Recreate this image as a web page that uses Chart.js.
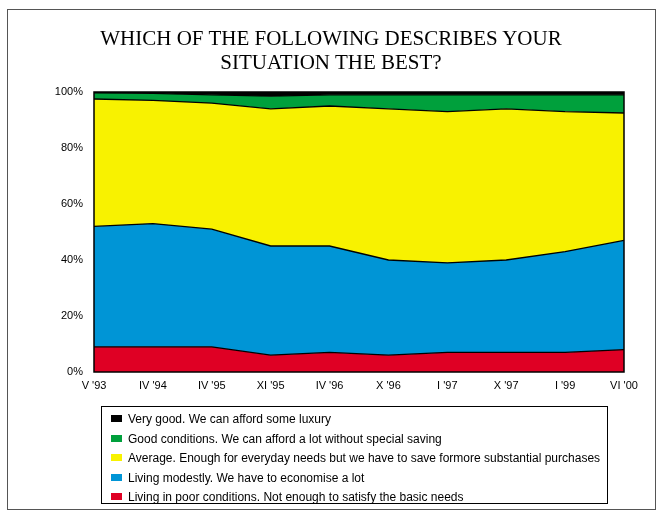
<!DOCTYPE html>
<html>
<head>
<meta charset="utf-8">
<script src="https://cdn.jsdelivr.net/npm/chart.js@4"></script>
<style>
    body { margin: 0; background: #fff; }
    #wrap { position: relative; width: 662px; height: 519px; }
    #frame {
        position: absolute; left: 7px; top: 9px; width: 649px; height: 501px;
        border: 1px solid #555; box-sizing: border-box;
    }
    #chart { position: absolute; left: 0; top: 0; }
    #title {
        position: absolute; left: 0; width: 662px; top: 26px; text-align: center;
        font: 21px/24px "Liberation Serif", "Times New Roman", serif; color: #000;
    }
    #legend {
        position: absolute; left: 101px; top: 406px; width: 507px; height: 98px;
        border: 1px solid #000; box-sizing: border-box; padding-top: 5px;
        font: 12px "Liberation Sans", Arial, sans-serif; color: #000;
    }
    .item { height: 19.6px; line-height: 15px; white-space: nowrap; }
    .swatch {
        display: inline-block; width: 11px; height: 7px; margin: 0 6px 0 9px;
        vertical-align: 1px;
    }
</style>
</head>
<body>
<div id="wrap">
    <div id="frame"></div>
    <canvas id="chart" width="662" height="519"></canvas>
    <div id="title">WHICH OF THE FOLLOWING DESCRIBES YOUR<br>SITUATION THE BEST?</div>
    <div id="legend"></div>
</div>
<script>
// Periodos de la encuesta
const periodos = ["V '93", "IV '94", "IV '95", "XI '95", "IV '96", "X '96", "I '97", "X '97", "I '99", "VI '00"];

// Porcentajes por respuesta (de abajo hacia arriba en el apilado)
const malas      = [9, 9, 9, 6, 7, 6, 7, 7, 7, 8];
const modestas   = [43, 44, 42, 39, 38, 34, 32, 33, 36, 39];
const promedio   = [45.5, 44, 45, 49, 50, 54, 54, 54, 50, 45.5];
const buenas     = [2.2, 2.5, 3, 4.5, 4, 5, 6, 5, 6, 6.5];
const muyBuenas  = [0.3, 0.5, 1, 1.5, 1, 1, 1, 1, 1, 1];

const etiquetas = [
    'Living in poor conditions. Not enough to satisfy the basic needs',
    'Living modestly. We have to economise a lot',
    'Average. Enough for everyday needs but we have to save formore substantial purchases',
    'Good conditions. We can afford a lot without special saving',
    'Very good. We can afford some luxury'
];
const colores = ['#df0024', '#0095d6', '#f8f200', '#00a03c', '#000000'];
const series = [malas, modestas, promedio, buenas, muyBuenas];

const yTicks = [0, 20, 40, 60, 80, 100];

const fuente = { family: '"Liberation Sans", Arial, sans-serif', size: 11 };

// Borde del área del gráfico
const bordeArea = {
    id: 'bordeArea',
    afterDatasetsDraw(chart) {
        const a = chart.chartArea;
        const ctx = chart.ctx;
        ctx.save();
        ctx.strokeStyle = '#000';
        ctx.lineWidth = 1.5;
        ctx.strokeRect(a.left, a.top, a.right - a.left, a.bottom - a.top);
        ctx.restore();
    }
};

const chart = new Chart(document.getElementById('chart'), {
    type: 'line',
    data: {
        labels: periodos,
        datasets: series.map((datos, i) => ({
            label: etiquetas[i],
            data: datos,
            backgroundColor: colores[i],
            borderColor: '#000',
            borderWidth: 1.3,
            pointRadius: 0,
            tension: 0,
            fill: i === 0 ? 'origin' : '-1'
        }))
    },
    options: {
        responsive: false,
        animation: false,
        layout: { padding: { left: 0, right: 38, bottom: 117, top: 92 } },
        scales: {
            x: {
                offset: false,
                grid: { display: false, drawTicks: false },
                border: { display: false },
                ticks: { color: '#000', font: fuente, padding: 7, maxRotation: 0, autoSkip: false },
                afterFit(scale) { scale.height = 30; }
            },
            y: {
                stacked: true,
                min: 0,
                max: 100,
                grid: { display: false, drawTicks: false },
                border: { display: false },
                afterBuildTicks(scale) { scale.ticks = yTicks.map(v => ({ value: v })); },
                ticks: {
                    color: '#000', font: fuente, padding: 11,
                    callback: v => v + '%'
                },
                afterFit(scale) { scale.width = 94; }
            }
        },
        plugins: {
            legend: { display: false },
            tooltip: { enabled: false }
        }
    },
    plugins: [bordeArea]
});

// Leyenda en HTML, de la mejor situación a la peor
const leyenda = document.getElementById('legend');
chart.data.datasets.slice().reverse().forEach(ds => {
    const fila = document.createElement('div');
    fila.className = 'item';
    const cuadro = document.createElement('span');
    cuadro.className = 'swatch';
    cuadro.style.background = ds.backgroundColor;
    fila.appendChild(cuadro);
    fila.appendChild(document.createTextNode(ds.label));
    leyenda.appendChild(fila);
});
</script>
</body>
</html>
